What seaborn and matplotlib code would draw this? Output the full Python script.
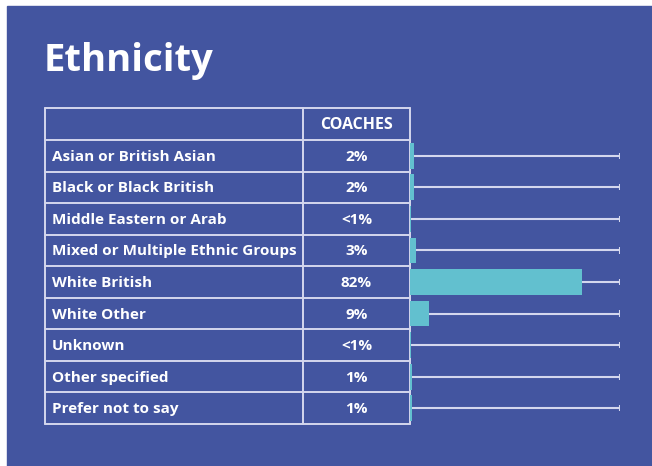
import matplotlib
matplotlib.use("Agg")
import matplotlib.pyplot as plt
import seaborn as sns
import pandas as pd

# Data
groups = [
    "Asian or British Asian",
    "Black or Black British",
    "Middle Eastern or Arab",
    "Mixed or Multiple Ethnic Groups",
    "White British",
    "White Other",
    "Unknown",
    "Other specified",
    "Prefer not to say",
]
coaches_pct = [2, 2, 0.5, 3, 82, 9, 0.5, 1, 1]
coaches_labels = ["2%", "2%", "<1%", "3%", "82%", "9%", "<1%", "1%", "1%"]
column_title = "COACHES"
title = "Ethnicity"

BLUE = "#4355a0"
TEAL = "#62c0cf"
GRID = "#d4d7ee"
W, H = 652, 466

sns.set_theme(style="white")
plt.rcParams["font.family"] = ["Open Sans", "DejaVu Sans"]

fig = plt.figure(figsize=(W / 100, H / 100), dpi=100, facecolor="white")

# Background panel and table drawn in pixel coordinates
bg = fig.add_axes([0, 0, 1, 1])
bg.set_xlim(0, W)
bg.set_ylim(H, 0)
bg.axis("off")
bg.add_patch(plt.Rectangle((7, 6), W, H, color=BLUE, zorder=0))

bg.text(44, 71, title, color="white", fontsize=27.5, fontweight="bold",
        ha="left", va="baseline")

tab_left, col_div, tab_right = 45, 303, 410
tab_top, body_top, tab_bottom = 108, 140, 424
n = len(groups)
row_h = (tab_bottom - body_top) / n

for y in [tab_top] + [body_top + i * row_h for i in range(n + 1)]:
    bg.plot([tab_left, tab_right], [y, y], color=GRID, lw=1.4, zorder=2)
for x in (tab_left, col_div, tab_right):
    bg.plot([x, x], [tab_top, tab_bottom], color=GRID, lw=1.4, zorder=2)

fs = 11
bg.text((col_div + tab_right) / 2, (tab_top + body_top) / 2 + 1, column_title,
        color="white", fontsize=11.5, fontweight="bold", ha="center", va="center")
for i, (g, lab) in enumerate(zip(groups, coaches_labels)):
    yc = body_top + (i + 0.5) * row_h + 1
    bg.text(52, yc, g, color="white", fontsize=fs, fontweight="bold",
            ha="left", va="center")
    bg.text((col_div + tab_right) / 2, yc, lab, color="white", fontsize=fs,
            fontweight="bold", ha="center", va="center")

# Bar chart next to the table
df = pd.DataFrame({"group": groups, "pct": coaches_pct})
bar_left, bar_full = 410, 620
ax = fig.add_axes([bar_left / W, 1 - tab_bottom / H,
                   (bar_full - bar_left) / W, (tab_bottom - body_top) / H])
ax.patch.set_alpha(0)
sns.barplot(data=df, x="pct", y="group", orient="h", color=TEAL,
            saturation=1, width=0.82, linewidth=0, edgecolor="none",
            ax=ax, zorder=3)
ax.hlines(range(n), df["pct"], 100, color=GRID, lw=1.5, zorder=2)
ax.vlines([100] * n, [i - 0.1 for i in range(n)], [i + 0.1 for i in range(n)],
          color=GRID, lw=1.5, zorder=2)
ax.set_xlim(0, 100)
ax.set_ylim(n - 0.5, -0.5)
ax.axis("off")

fig.savefig("out.png", dpi=100, facecolor="white")
